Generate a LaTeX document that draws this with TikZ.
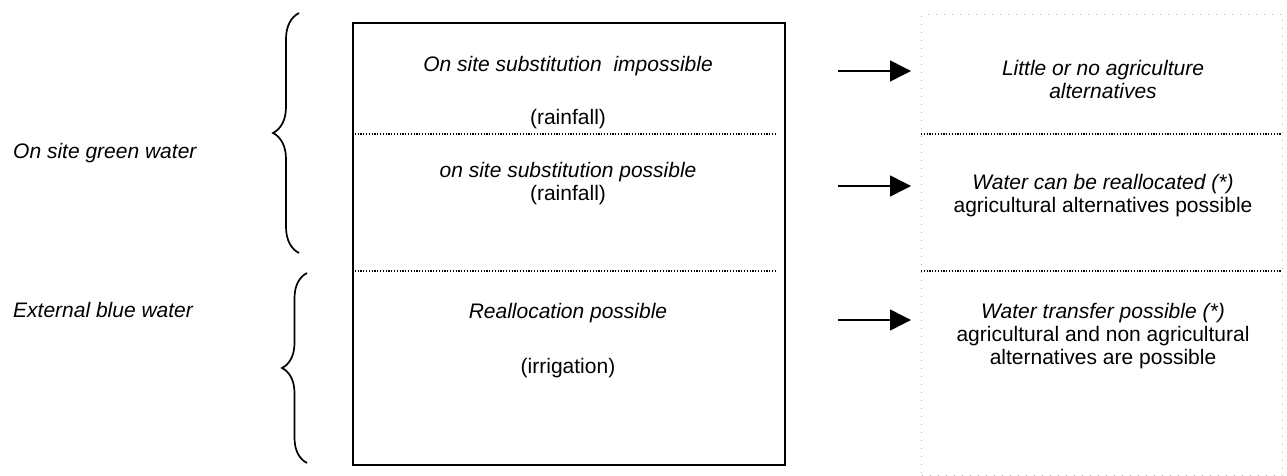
\documentclass[tikz,border=0pt]{standalone}
\usepackage{fontspec}
\setmainfont{Liberation Sans}
\usetikzlibrary{arrows.meta,decorations.pathreplacing}
\begin{document}
\begin{tikzpicture}[x=1pt,y=1pt,
  txt/.style={font=\fontsize{21}{23}\selectfont, align=center, inner sep=0pt},
  itxt/.style={txt, font=\fontsize{21}{23}\selectfont\itshape},
  lbl/.style={font=\fontsize{21}{23}\selectfont\itshape, inner sep=0pt, anchor=base west},
  mainbox/.style={draw=black, line width=2pt, inner sep=0pt},
  altbox/.style={draw=black!30, line width=1.3pt, dash pattern=on 1pt off 7pt, inner sep=0pt},
  sep/.style={draw=black, line width=1.3pt, dash pattern=on 1.2pt off 1.6pt},
  bracesty/.style={draw=black, line width=1.7pt, decorate, decoration={brace, amplitude=#1}},
  arr/.style={draw=black, line width=1.5pt, -{Triangle[length=21pt,width=21pt]}}
]
\useasboundingbox (0,0) rectangle (1287,-476);
% boxes
\node[mainbox, minimum width=432pt, minimum height=442pt, anchor=north west] (main) at (352,-22) {};
\node[altbox, minimum width=361pt, minimum height=461pt, anchor=north west] (alt) at (921,-14) {};
% separators
\coordinate (m1l) at (352,-134); \coordinate (m1r) at (777,-134);
\coordinate (m2l) at (352,-271); \coordinate (m2r) at (777,-271);
\coordinate (r1l) at (921,-134); \coordinate (r1r) at (1282,-134);
\coordinate (r2l) at (921,-271); \coordinate (r2r) at (1282,-271);
\draw[sep] (m1l) -- (m1r);
\draw[sep] (m2l) -- (m2r);
\draw[sep] (r1l) -- (r1r);
\draw[sep] (r2l) -- (r2r);
% braces
\coordinate (b1b) at (299,-253); \coordinate (b1t) at (299,-13);
\coordinate (b2b) at (307,-463); \coordinate (b2t) at (307,-273);
\draw[bracesty=26pt] (b1b) -- (b1t);
\draw[bracesty=25pt] (b2b) -- (b2t);
% left texts
\node[lbl] (green) at (13,-158) {On site green water};
\node[lbl] (blue) at (13,-317) {External blue water};
% main box texts
\node[itxt] (t1) at (568,-66) {On site substitution\ \ impossible};
\node[txt] (t2) at (568,-119) {(rainfall)};
\node[itxt] (t3) at (568,-172) {on site substitution possible};
\node[txt] (t4) at (568,-195) {(rainfall)};
\node[itxt] (t5) at (568,-313) {Reallocation possible};
\node[txt] (t6) at (568,-368) {(irrigation)};
% right texts
\node[itxt] (r1) at (1103,-79) {Little or no agriculture\\alternatives};
\node[txt] (r2) at (1103,-196) {\itshape Water can be reallocated (*)\\agricultural alternatives possible};
\node[txt] (r3) at (1103,-336) {\itshape Water transfer possible (*)\\agricultural and non agricultural\\alternatives are possible};
% arrows
\coordinate (a1s) at (838,-71); \coordinate (a1e) at (911,-71);
\coordinate (a2s) at (838,-186); \coordinate (a2e) at (911,-186);
\coordinate (a3s) at (838,-320); \coordinate (a3e) at (911,-320);
\draw[arr] (a1s) -- (a1e);
\draw[arr] (a2s) -- (a2e);
\draw[arr] (a3s) -- (a3e);
\end{tikzpicture}
\end{document}
